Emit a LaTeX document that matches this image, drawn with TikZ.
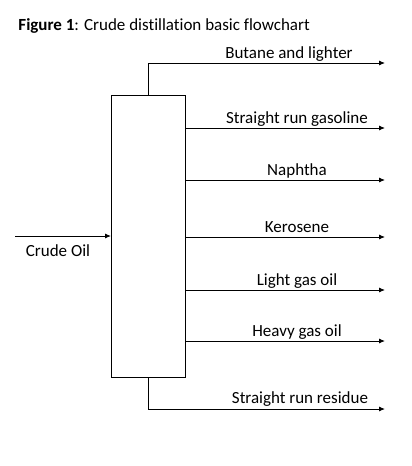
\documentclass[tikz,border=0pt]{standalone}
\usepackage{fontspec}
\setmainfont[Ligatures={NoCommon}]{Carlito}
\usetikzlibrary{arrows.meta}

\begin{document}
\begin{tikzpicture}[x=1pt, y=-1pt, line width=0.9pt,
    flow/.style={-{Latex[length=6pt,width=5pt]}},
    stream/.style={font=\fontsize{17}{20}\selectfont, anchor=base, inner sep=0pt}]
    \useasboundingbox (0,0) rectangle (412,466);

    % Title
    \node[anchor=base west, inner sep=0pt, font=\fontsize{17}{20}\selectfont] (title) at (18,30) {\textbf{Figure 1}: Crude distillation basic flowchart};

    % Distillation column
    \node[draw, anchor=north west, inner sep=0pt, minimum width=74pt, minimum height=282pt] (column) at (111,95) {};

    % Feed
    \coordinate (feed) at (15,236);
    \draw[flow] (feed) -- (feed -| column.west);
    \node[stream] (feed label) at (58,256) {Crude Oil};

    % Overhead and bottoms
    \coordinate (top end) at (385,63);
    \coordinate (bottom end) at (385,409);
    \draw[flow] (column.north) |- (top end);
    \draw[flow] (column.south) |- (bottom end);
    \node[stream] (top label) at (289,58) {Butane and lighter};
    \node[stream] (bottom label) at (300,403) {Straight run residue};

    % Side draws
    \foreach \y/\name [count=\i] in {128/Straight run gasoline, 180/Naphtha, 237/Kerosene, 290/Light gas oil, 341/Heavy gas oil} {
        \coordinate (side end \i) at (385,\y);
        \draw[flow] (column.east |- side end \i) -- (side end \i);
        \node[stream] (side label \i) at (297,\y-5) {\name};
    }
\end{tikzpicture}
\end{document}
